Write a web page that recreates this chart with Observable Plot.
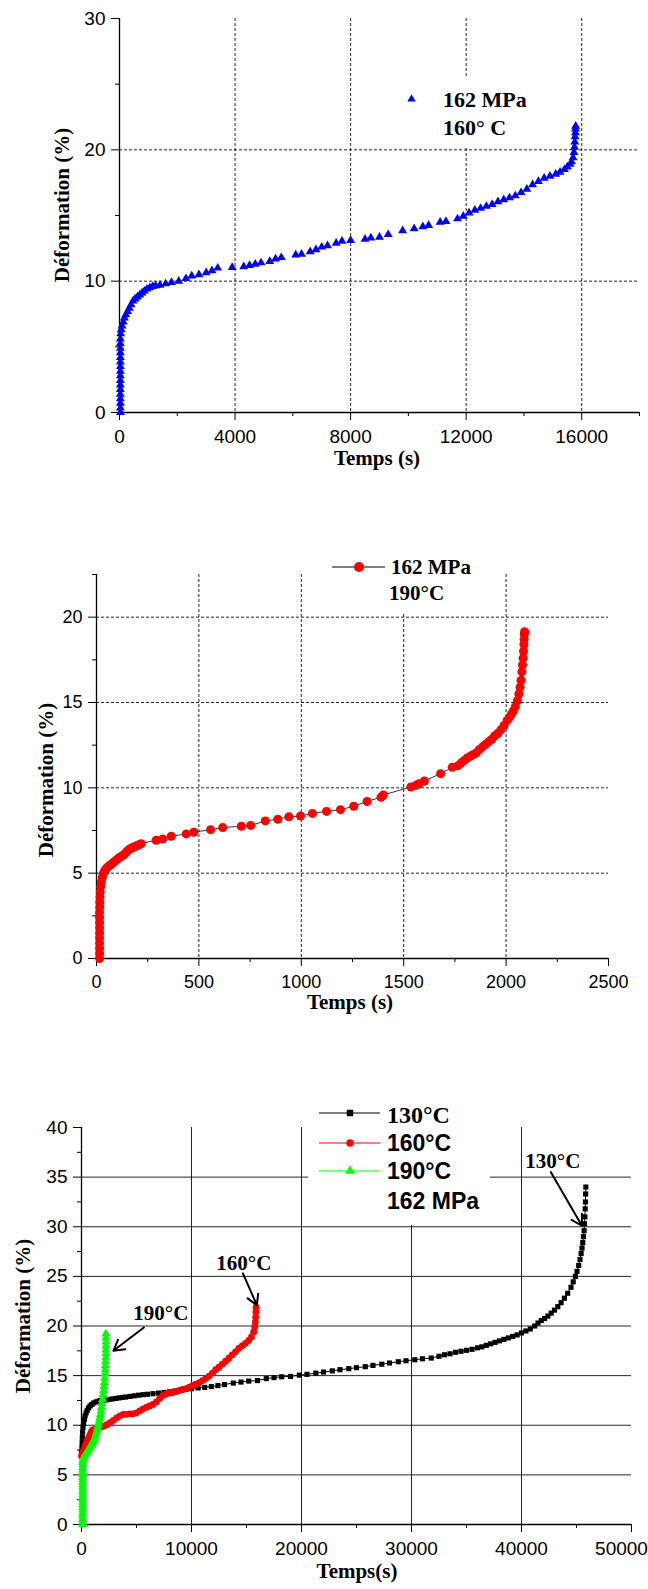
<!DOCTYPE html>
<html><head><meta charset="utf-8">
<script src="https://cdn.jsdelivr.net/npm/d3@7"></script>
<script src="https://cdn.jsdelivr.net/npm/@observablehq/plot@0.6"></script>
<style>
html,body{margin:0;padding:0;background:#fff;}
#wrap{position:relative;width:648px;height:1589px;overflow:hidden;background:#fff;}
.panel{position:absolute;left:0;}
</style></head><body><div id="wrap"></div>
<script>
// ---------- Chart 1 : 162 MPa, 160 °C ----------
const t160a = [30,30,30,30,30,30,30,30,30,30,30,30,30,30,30,30,30,40,60,90,130,170,220,280,340,400,470,540,620,700,780,860,950,1050,1150,1250,1400,1600,1800,2050,2300,2500,2750,3000,3200,3400,3900,4300,4500,4700,4900,5200,5400,5600,6100,6300,6600,6800,7000,7200,7500,7700,8000,8500,8700,9000,9300,9800,10200,10500,10700,11100,11300,11700,11900,12100,12300,12500,12700,12900,13100,13300,13500,13700,13900,14100,14300,14500,14700,14900,15100,15250,15400,15500,15600,15650,15700,15730,15750,15760,15770,15780,15785,15790];
const e160a = [0,0.35,0.7,1.05,1.4,1.75,2.1,2.45,2.8,3.15,3.5,3.85,4.2,4.55,4.9,5.25,5.6,6.0,6.3,6.6,6.9,7.2,7.45,7.7,7.95,8.2,8.5,8.65,8.8,8.95,9.1,9.25,9.4,9.5,9.6,9.65,9.7,9.8,9.9,10.0,10.2,10.4,10.5,10.65,10.8,11.0,11.05,11.1,11.2,11.3,11.4,11.5,11.7,11.8,12.0,12.05,12.25,12.4,12.6,12.7,12.9,13.05,13.1,13.2,13.3,13.35,13.55,13.85,14.0,14.15,14.25,14.5,14.55,14.75,14.95,15.2,15.4,15.55,15.7,15.85,16.05,16.2,16.35,16.5,16.75,17.0,17.35,17.6,17.85,18.0,18.15,18.3,18.5,18.7,18.9,19.1,19.4,19.8,20.2,20.6,21.0,21.3,21.6,21.8];
const xTicks1 = [0,4000,8000,12000,16000], xMinor1 = [2000,6000,10000,14000,18000];
const yTicks1 = [0,10,20,30], yMinor1 = [5,15,25];
const xGrid1 = [4000,8000,12000,16000], yGrid1 = [10,20];
const legend1 = ["162 MPa","160° C"];

// ---------- Chart 2 : 162 MPa, 190 °C ----------
const t190b = [15,15,15,15,15,15,15,15,15,15,16,16,17,18,20,24,28,33,38,44,50,57,64,72,80,90,100,110,120,130,140,150,160,170,180,190,200,210,218,291,323,365,438,475,557,616,707,753,824,885,939,996,1054,1123,1191,1256,1321,1389,1400,1535,1560,1575,1601,1680,1737,1765,1780,1795,1810,1825,1840,1855,1870,1885,1900,1915,1930,1945,1960,1975,1990,2005,2015,2025,2035,2045,2055,2062,2068,2073,2077,2080,2083,2085,2087,2088,2089,2090];
const e190b = [0,0.3,0.6,0.9,1.2,1.5,1.8,2.1,2.4,2.7,3.0,3.3,3.6,3.9,4.2,4.5,4.75,4.95,5.1,5.2,5.3,5.38,5.45,5.52,5.6,5.7,5.8,5.9,5.97,6.05,6.15,6.3,6.4,6.47,6.52,6.57,6.62,6.68,6.73,6.93,7.0,7.16,7.3,7.4,7.55,7.67,7.75,7.8,8.06,8.16,8.3,8.35,8.5,8.62,8.72,8.92,9.2,9.45,9.58,10.05,10.15,10.24,10.4,10.83,11.2,11.3,11.45,11.6,11.75,11.85,11.95,12.05,12.25,12.4,12.55,12.7,12.85,13.05,13.2,13.4,13.65,13.95,14.1,14.3,14.5,14.75,15.1,15.5,15.9,16.3,16.8,17.2,17.6,18.0,18.4,18.7,19.0,19.15];
const xTicks2 = [0,500,1000,1500,2000,2500], xMinor2 = [250,750,1250,1750,2250];
const yTicks2 = [0,5,10,15,20], yMinor2 = [2.5,7.5,12.5,17.5,22.5];
const xGrid2 = [500,1000,1500,2000], yGrid2 = [5,10,15,20];
const legend2 = ["162 MPa","190°C"];

// ---------- Chart 3 : 130 / 160 / 190 °C ----------
const t130c = [0,40,60,75,100,140,190,260,330,420,520,640,780,940,1120,1320,1520,1750,2000,2256,2500,2800,3100,3400,3700,4000,4400,4800,5200,5600,6000,6500,7000,7500,8000,8500,9000,9500,10000,10600,11200,11800,12400,13000,13800,14500,15200,16000,16800,17500,18200,19000,19800,20500,21300,22000,22800,23500,24300,25000,25800,26500,27300,28000,28800,29500,30300,31000,31800,32500,33000,33500,34000,34500,35000,35500,36000,36400,36800,37200,37600,38000,38400,38800,39200,39600,40000,40400,40800,41200,41500,41800,42100,42400,42700,43000,43300,43600,43900,44200,44500,44700,44900,45050,45200,45320,45420,45500,45570,45630,45690,45730,45760,45790,45810,45830,45850];
const e130c = [7.3,7.8,8.3,8.8,9.3,9.8,10.2,10.6,10.95,11.25,11.5,11.75,11.95,12.1,12.25,12.35,12.42,12.48,12.52,12.55,12.6,12.65,12.7,12.75,12.8,12.84,12.9,12.97,13.03,13.08,13.12,13.18,13.24,13.3,13.37,13.45,13.53,13.6,13.68,13.76,13.82,13.9,14.0,14.1,14.25,14.35,14.45,14.5,14.7,14.8,14.88,14.92,15.05,15.13,15.25,15.36,15.48,15.6,15.7,15.8,15.9,16.03,16.15,16.27,16.4,16.5,16.6,16.7,16.77,16.95,17.1,17.2,17.35,17.45,17.55,17.65,17.8,17.9,18.05,18.2,18.35,18.5,18.65,18.8,18.95,19.1,19.3,19.5,19.7,20.0,20.3,20.55,20.75,21.0,21.3,21.6,21.95,22.35,22.8,23.3,23.9,24.45,25.0,25.5,26.1,26.7,27.3,27.85,28.4,29.0,29.6,30.3,31.0,31.8,32.5,33.3,34.0];
const t160c = [0,100,200,300,400,500,600,700,800,900,1000,1200,1400,1700,2000,2300,2600,2900,3200,3500,3800,4100,4400,4700,5000,5300,5600,5900,6200,6500,6800,7100,7400,7700,8000,8300,8600,8900,9200,9500,9800,10100,10400,10700,11000,11300,11600,11900,12200,12500,12800,13100,13400,13700,14000,14300,14600,14900,15200,15450,15650,15750,15800,15830,15850,15865];
const e160c = [6.9,7.2,7.5,7.8,8.1,8.35,8.6,8.85,9.1,9.35,9.5,9.6,9.7,9.8,9.9,10.05,10.25,10.5,10.75,10.95,11.1,11.1,11.15,11.15,11.25,11.45,11.65,11.8,11.95,12.1,12.35,12.7,13.0,13.15,13.25,13.3,13.4,13.5,13.6,13.7,13.85,14.0,14.15,14.3,14.5,14.7,14.95,15.25,15.6,15.85,16.15,16.45,16.75,17.1,17.4,17.75,18.0,18.25,18.55,18.9,19.4,19.9,20.4,20.9,21.4,21.9];
const t190c = [100,100,100,100,100,100,100,100,100,100,100,100,100,100,100,100,100,100,100,100,100,100,100,100,100,100,110,150,200,250,310,376,440,500,560,620,690,752,820,880,940,1000,1060,1128,1190,1250,1320,1391,1450,1500,1560,1617,1665,1710,1760,1805,1850,1900,1945,1992,2030,2060,2090,2120,2140,2160,2175,2190,2200,2210,2213,2215,2210,2200];
const e190c = [0,0.25,0.5,0.75,1.0,1.25,1.5,1.75,2.0,2.25,2.5,2.75,3.0,3.25,3.5,3.75,4.0,4.25,4.5,4.75,5.0,5.25,5.5,5.75,6.0,6.25,6.4,6.6,6.75,6.9,7.0,7.1,7.2,7.3,7.42,7.55,7.68,7.8,7.92,8.05,8.15,8.25,8.38,8.5,8.7,8.9,9.2,9.5,9.72,9.95,10.22,10.5,10.8,11.1,11.45,11.8,12.2,12.6,13.05,13.5,13.9,14.3,14.75,15.2,15.6,16.0,16.4,16.8,17.2,17.6,18.0,18.4,18.8,19.2];
const xTicks3 = [0,10000,20000,30000,40000,50000], xMinor3 = [5000,15000,25000,35000,45000];
const yTicks3 = [0,5,10,15,20,25,30,35,40], yMinor3 = [2.5,7.5,12.5,17.5,22.5,27.5,32.5,37.5];
const xGrid3 = [10000,20000,30000,40000], yGrid3 = [5,10,15,20,25,30,35];
const legend3 = ["130°C","160°C","190°C","162 MPa"];
const annotLabel3 = ["130°C","160°C","190°C"];
const annotX3 = [42855,14764,7218], annotY3 = [36.6,26.3,21.3];
const arrowX1 = [42673,14673,5673], arrowY1 = [35.5,25.3,19.85];
const arrowX2 = [45491,15945,2900], arrowY2 = [30.1,22.1,17.5];

// ---------- helpers ----------
const W = 648;
const SANS = "'Liberation Sans', Arial, Helvetica, sans-serif";
const SERIF = "'Liberation Serif', 'Times New Roman', Times, serif";
const wrap = document.getElementById("wrap");
const zip = (ts, es) => ts.map((t, i) => ({t, s: es[i]}));
const fmt = d => String(d);
function place(top, svg) {
  const div = document.createElement("div");
  div.className = "panel"; div.style.top = top + "px";
  div.appendChild(svg); wrap.appendChild(div);
  return d3.select(svg);
}
function axes(xt, xm, yt, ym, fs) {
  return [
    Plot.axisX(xt, {tickSize: 8, tickPadding: 9, tickFormat: fmt, label: null, fontSize: fs}),
    Plot.axisX(xm, {tickSize: 4, tickFormat: () => "", label: null}),
    Plot.axisY(yt, {tickSize: 8, tickPadding: 6, tickFormat: fmt, label: null, fontSize: fs}),
    Plot.axisY(ym, {tickSize: 4, tickFormat: () => "", label: null}),
    Plot.ruleY([0], {stroke: "#000", strokeWidth: 1.3}),
    Plot.ruleX([0], {stroke: "#000", strokeWidth: 1.3})
  ];
}
function txt(sel, x, y, s, o = {}) {
  const t = sel.append("text").attr("x", x).attr("y", y).text(s)
    .attr("font-family", o.family || SERIF).attr("font-weight", o.weight || "bold")
    .attr("font-size", o.size || 21).attr("fill", "#000")
    .attr("text-anchor", o.anchor || "start");
  if (o.rotate) t.attr("transform", `rotate(-90 ${x} ${y})`).attr("text-anchor", "middle").attr("dominant-baseline", "central");
  return t;
}
const baseStyle = {background: "#fff", color: "#000", fontFamily: SANS, overflow: "visible"};

// ---------- Chart 1 ----------
const p1 = Plot.plot({
  width: W, height: 480, marginTop: 18, marginBottom: 68, marginLeft: 119, marginRight: 9,
  style: {...baseStyle, fontSize: "19px"},
  x: {domain: [0, 18000]}, y: {domain: [0, 30]},
  marks: [
    Plot.gridX(xGrid1, {stroke: "#000", strokeOpacity: 0.85, strokeDasharray: "3,2"}),
    Plot.gridY(yGrid1, {stroke: "#000", strokeOpacity: 0.85, strokeDasharray: "3,2"}),
    ...axes(xTicks1, xMinor1, yTicks1, yMinor1, 19),
    Plot.dot(zip(t160a, e160a), {x: "t", y: "s", symbol: "triangle", r: 3.3, fill: "#0000ff", stroke: "none"})
  ]
});
const s1 = place(0, p1);
s1.append("rect").attr("x", 395).attr("y", 78).attr("width", 150).attr("height", 68).attr("fill", "#fff");
s1.append("path").attr("d", d3.symbol(d3.symbolTriangle, 30)()).attr("transform", "translate(411.5,99)").attr("fill", "#0000ff");
txt(s1, 443, 107, legend1[0], {size: 22});
txt(s1, 443, 135, legend1[1], {size: 22});
txt(s1, 62, 205, "Déformation (%)", {rotate: true});
txt(s1, 377, 465, "Temps (s)", {anchor: "middle"});

// ---------- Chart 2 ----------
const d2 = zip(t190b, e190b);
const p2 = Plot.plot({
  width: W, height: 560, marginTop: 94, marginBottom: 82, marginLeft: 96, marginRight: 40,
  style: {...baseStyle, fontSize: "18px"},
  x: {domain: [0, 2500]}, y: {domain: [0, 22.5]},
  marks: [
    Plot.gridX(xGrid2, {stroke: "#000", strokeOpacity: 0.85, strokeDasharray: "3,2"}),
    Plot.gridY(yGrid2, {stroke: "#000", strokeOpacity: 0.85, strokeDasharray: "3,2"}),
    ...axes(xTicks2, xMinor2, yTicks2, yMinor2, 18),
    Plot.line(d2, {x: "t", y: "s", stroke: "#000", strokeWidth: 0.8}),
    Plot.dot(d2, {x: "t", y: "s", r: 4.5, fill: "#ff0000", stroke: "none"})
  ]
});
const s2 = place(480, p2);
s2.append("rect").attr("x", 315).attr("y", 60).attr("width", 175).attr("height", 73).attr("fill", "#fff");
s2.append("line").attr("x1", 332).attr("x2", 385).attr("y1", 87).attr("y2", 87).attr("stroke", "#000").attr("stroke-width", 1);
s2.append("circle").attr("cx", 359).attr("cy", 87).attr("r", 5).attr("fill", "#ff0000");
txt(s2, 391, 94, legend2[0], {size: 21});
txt(s2, 389, 120, legend2[1], {size: 21});
txt(s2, 46, 300, "Déformation (%)", {rotate: true});
txt(s2, 350, 529, "Temps (s)", {anchor: "middle"});

// ---------- Chart 3 ----------
const d130 = zip(t130c, e130c), d160 = zip(t160c, e160c), d190 = zip(t190c, e190c);
const annots = annotLabel3.map((label, i) => ({label, x: annotX3[i], y: annotY3[i], x1: arrowX1[i], y1: arrowY1[i], x2: arrowX2[i], y2: arrowY2[i]}));
const p3 = Plot.plot({
  width: W, height: 549, marginTop: 87, marginBottom: 65, marginLeft: 81, marginRight: 17,
  style: {...baseStyle, fontSize: "19px"},
  x: {domain: [0, 50000]}, y: {domain: [0, 40]},
  marks: [
    Plot.gridX(xGrid3, {stroke: "#000", strokeOpacity: 0.85, strokeWidth: 1}),
    Plot.gridY(yGrid3, {stroke: "#000", strokeOpacity: 0.85, strokeWidth: 1}),
    ...axes(xTicks3, xMinor3, yTicks3, yMinor3, 19),
    Plot.line(d130, {x: "t", y: "s", stroke: "#000", strokeWidth: 1}),
    Plot.dot(d130, {x: "t", y: "s", symbol: "square", r: 2.9, fill: "#000", stroke: "none"}),
    Plot.line(d160, {x: "t", y: "s", stroke: "#ff0000", strokeWidth: 1}),
    Plot.dot(d160, {x: "t", y: "s", r: 3.4, fill: "#ff0000", stroke: "none"}),
    Plot.line(d190, {x: "t", y: "s", stroke: "#00ff00", strokeWidth: 1}),
    Plot.dot(d190, {x: "t", y: "s", symbol: "triangle", r: 3.3, fill: "#00ff00", stroke: "none"}),
    Plot.arrow(annots, {x1: "x1", y1: "y1", x2: "x2", y2: "y2", stroke: "#000", strokeWidth: 2, headLength: 9}),
    Plot.text(annots, {x: "x", y: "y", text: "label", fontFamily: SERIF, fontWeight: "bold", fontSize: 21, fill: "#000", textAnchor: "middle", lineAnchor: "middle"})
  ]
});
const s3 = place(1040, p3);
s3.selectAll("text").filter(function () { return this.textContent === "50000"; }).attr("dx", -10);
s3.append("rect").attr("x", 308).attr("y", 48).attr("width", 182).attr("height", 137).attr("fill", "#fff");
const legY = [73, 103, 131];
const legCol = ["#000", "#ff0000", "#00ff00"];
const legSym = [d3.symbolSquare, d3.symbolCircle, d3.symbolTriangle];
legY.forEach((y, i) => {
  s3.append("line").attr("x1", 319).attr("x2", 380).attr("y1", y).attr("y2", y).attr("stroke", legCol[i]).attr("stroke-width", 1.2);
  s3.append("path").attr("d", d3.symbol(legSym[i], 42)()).attr("transform", `translate(350,${y})`).attr("fill", legCol[i]);
});
txt(s3, 387, 83, legend3[0], {size: 24});
txt(s3, 387, 111, legend3[1], {size: 23, family: SANS});
txt(s3, 387, 139, legend3[2], {size: 23, family: SANS});
txt(s3, 387, 169, legend3[3], {size: 23, family: SANS});
txt(s3, 23, 276, "Déformation (%)", {rotate: true});
txt(s3, 357, 538, "Temps(s)", {anchor: "middle"});
</script></body></html>
